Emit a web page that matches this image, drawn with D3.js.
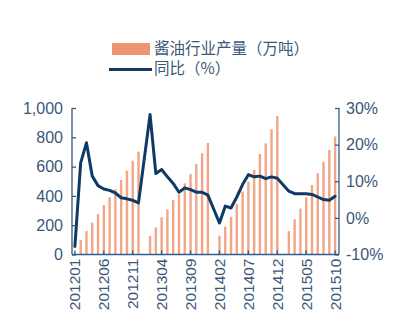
<!DOCTYPE html>
<html>
<head>
<meta charset="utf-8">
<script src="https://cdn.jsdelivr.net/npm/d3@7/dist/d3.min.js"></script>
<style>
  html, body { margin: 0; padding: 0; background: #ffffff; }
  svg { display: block; }
</style>
</head>
<body>
<svg id="chart" width="400" height="332"></svg>
<script>
// Monthly categories, 2012-01 .. 2015-10
const months = [
  "201201","201202","201203","201204","201205","201206","201207","201208","201209","201210","201211","201212",
  "201301","201302","201303","201304","201305","201306","201307","201308","201309","201310","201311","201312",
  "201401","201402","201403","201404","201405","201406","201407","201408","201409","201410","201411","201412",
  "201501","201502","201503","201504","201505","201506","201507","201508","201509","201510"
];

// Cumulative soy-sauce output (10k tonnes); January is reported together with February
const output = [
  null, 99, 160, 217, 276, 338, 390, 445, 508, 572, 640, 702,
  null, 126, 185, 254, 308, 372, 411, 486, 549, 618, 691, 761,
  null, 128, 190, 258, 345, 429, 497, 577, 686, 759, 855, 945,
  null, 160, 240, 313, 390, 474, 554, 633, 713, 806
];

// Year-on-year growth (%)
const yoy = [
  -7.8, 15.0, 20.5, 11.4, 8.8, 7.9, 7.5, 6.8, 5.5, 5.2, 4.8, 4.1,
  null, 28.2, 12.1, 13.2, 11.2, 9.4, 7.0, 8.2, 7.7, 7.0, 7.0, 6.2,
  null, -1.4, 3.2, 2.7, 5.7, 9.1, 11.8, 11.2, 11.4, 10.7, 11.2, 10.8,
  null, 7.3, 6.6, 6.6, 6.6, 6.4, 5.7, 5.0, 4.8, 5.9
];

// Axis tick values and labels
const xTickLabels = ["201201","201206","201211","201304","201309","201402","201407","201412","201505","201510"];
const leftTicks = [0, 200, 400, 600, 800, 1000];
const rightTicks = [-10, 0, 10, 20, 30];

const legendLabels = ["酱油行业产量（万吨）", "同比（%）"];

const barColor = "#f0a687";
const lineColor = "#0e3a66";
const textColor = "#3b5878";
const axisBlue = "#2f5f8c";

const svg = d3.select("#chart");
const plotLeft = 72, plotRight = 339, plotTop = 108, plotBottom = 254.5;

const x = d3.scaleBand().domain(months).range([plotLeft, plotRight - 1]).padding(0);
const yL = d3.scaleLinear().domain([0, 1000]).range([plotBottom, plotTop]);
const yR = d3.scaleLinear().domain([-10, 30]).range([plotBottom, plotTop]);

const cx = m => x(m) + x.bandwidth() / 2;
const barW = 2.4;

// Bars
const barData = months.map((m, i) => ({ m, v: output[i] })).filter(d => d.v != null);
svg.append("g").selectAll("rect").data(barData).join("rect")
  .attr("x", d => cx(d.m) - barW / 2)
  .attr("width", barW)
  .attr("y", d => yL(d.v))
  .attr("height", d => yL(0) - yL(d.v))
  .attr("fill", barColor);

// YoY line (missing Januaries are bridged)
const lineData = months.map((m, i) => ({ m, v: yoy[i] })).filter(d => d.v != null);
const line = d3.line().x(d => cx(d.m)).y(d => yR(d.v)).curve(d3.curveLinear);
svg.append("path").datum(lineData)
  .attr("d", line)
  .attr("fill", "none")
  .attr("stroke", lineColor)
  .attr("stroke-width", 3)
  .attr("stroke-linejoin", "round")
  .attr("stroke-linecap", "round");

// Left axis
const leftAxis = d3.axisLeft(yL).tickValues(leftTicks).tickSize(-4).tickPadding(9)
  .tickFormat(d3.format(","));
const gL = svg.append("g").attr("transform", `translate(${plotLeft},0)`).call(leftAxis);
gL.select(".domain").attr("stroke", "#3d5470").attr("stroke-width", 1.3).attr("d", `M-0,${plotTop}V${plotBottom}`);
gL.selectAll(".tick line").attr("stroke", "#3d5470").attr("stroke-width", 1.3);
gL.selectAll(".tick text").attr("fill", textColor)
  .style("font-family", "'Liberation Sans', Arial, sans-serif").style("font-size", "16px");

// Right axis
const rightAxis = d3.axisRight(yR).tickValues(rightTicks).tickSize(-4).tickPadding(7)
  .tickFormat(d => d + "%");
const gR = svg.append("g").attr("transform", `translate(${plotRight},0)`).call(rightAxis);
gR.select(".domain").attr("stroke", axisBlue).attr("stroke-width", 1.3).attr("d", `M0,${plotTop}V${plotBottom}`);
gR.selectAll(".tick line").attr("stroke", axisBlue).attr("stroke-width", 1.3);
gR.selectAll(".tick text").attr("fill", textColor)
  .style("font-family", "'Liberation Sans', Arial, sans-serif").style("font-size", "16px");

// Bottom axis
const bottomAxis = d3.axisBottom(x).tickValues(xTickLabels).tickSize(-4).tickPadding(4);
const gB = svg.append("g").attr("transform", `translate(0,${plotBottom})`).call(bottomAxis);
gB.select(".domain").attr("stroke", axisBlue).attr("stroke-width", 1.3).attr("d", `M${plotLeft},0H${plotRight}`);
gB.selectAll(".tick line").attr("stroke", axisBlue).attr("stroke-width", 1.3);
gB.selectAll(".tick text")
  .attr("fill", textColor)
  .style("font-family", "'Liberation Sans', Arial, sans-serif").style("font-size", "15.5px")
  .attr("text-anchor", "end")
  .attr("dy", "0.36em")
  .attr("transform", "translate(0,4) rotate(-90)")
  .attr("x", 0).attr("y", 0);

// Legend
const lg = svg.append("g").style("font-family", "'Noto Sans CJK SC', sans-serif").style("font-size", "15.5px");
lg.append("rect").attr("x", 112).attr("y", 43).attr("width", 38).attr("height", 12).attr("fill", "#ee9470");
lg.append("text").attr("x", 154).attr("y", 48.5).attr("dy", "0.35em").attr("fill", textColor).text(legendLabels[0]);
lg.append("line").attr("x1", 109).attr("x2", 152).attr("y1", 69.5).attr("y2", 69.5)
  .attr("stroke", lineColor).attr("stroke-width", 3);
lg.append("text").attr("x", 154).attr("y", 69).attr("dy", "0.35em").attr("fill", textColor).text(legendLabels[1]);
</script>
</body>
</html>
